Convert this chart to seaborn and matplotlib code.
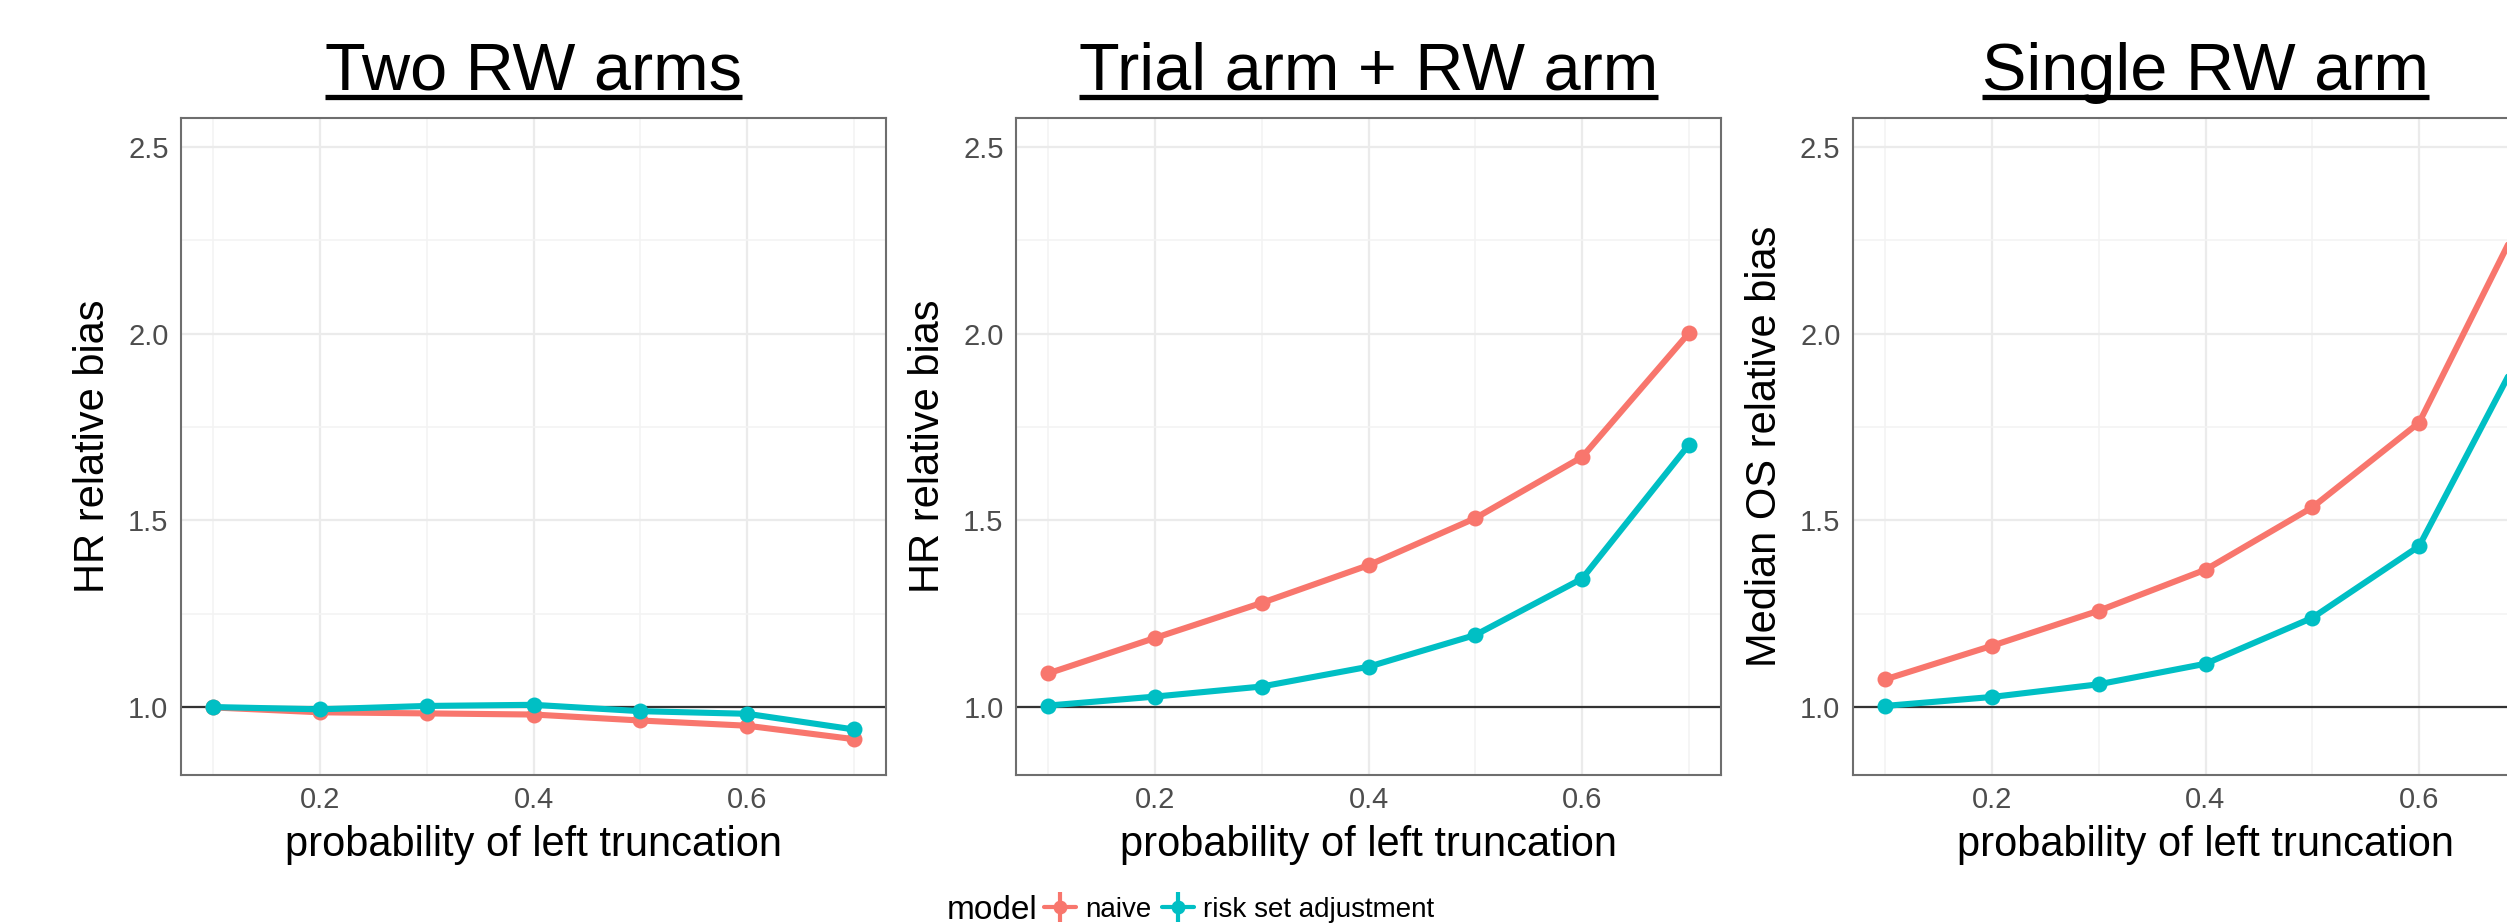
import matplotlib
matplotlib.use("Agg")
import matplotlib.pyplot as plt
from matplotlib.lines import Line2D
from matplotlib.ticker import MultipleLocator
import seaborn as sns
import pandas as pd

# data
trunc_prob = [0.1, 0.2, 0.3, 0.4, 0.5, 0.6, 0.7]

two_rw_naive = [0.999, 0.986, 0.983, 0.980, 0.964, 0.950, 0.914]
two_rw_riskset = [1.000, 0.994, 1.003, 1.006, 0.989, 0.982, 0.940]

trial_rw_naive = [1.090, 1.185, 1.279, 1.380, 1.506, 1.670, 2.002]
trial_rw_riskset = [1.004, 1.028, 1.055, 1.108, 1.193, 1.344, 1.703]

single_rw_naive = [1.074, 1.164, 1.258, 1.368, 1.535, 1.762, 2.335]
single_rw_riskset = [1.003, 1.027, 1.061, 1.116, 1.239, 1.431, 1.977]

panel_titles = ["Two RW arms", "Trial arm + RW arm", "Single RW arm"]
y_labels = ["HR relative bias", "HR relative bias", "Median OS relative bias"]
model_names = ["naive", "risk set adjustment"]
colors = {"naive": "#F8766D", "risk set adjustment": "#00BFC4"}

panels = [
    (two_rw_naive, two_rw_riskset),
    (trial_rw_naive, trial_rw_riskset),
    (single_rw_naive, single_rw_riskset),
]

sns.set_style("white")
plt.rcParams["font.family"] = ["Liberation Sans", "DejaVu Sans"]
plt.rcParams["text.color"] = "black"

W, H = 2507, 924
fig = plt.figure(figsize=(W / 100, H / 100), dpi=100)

ax_left = [181, 1016, 1853]
ax_w, ax_top, ax_bot = 705, 118, 775
ax_h = ax_bot - ax_top

for i, (naive, riskset) in enumerate(panels):
    ax = fig.add_axes([ax_left[i] / W, 1 - ax_bot / H, ax_w / W, ax_h / H])
    df = pd.DataFrame({
        "p": trunc_prob * 2,
        "bias": naive + riskset,
        "model": [model_names[0]] * len(naive) + [model_names[1]] * len(riskset),
    })
    ax.axhline(1.0, color="#333333", lw=1.6, zorder=1.5)
    sns.lineplot(data=df, x="p", y="bias", hue="model", palette=colors,
                 marker="o", markersize=11.5, markeredgewidth=0, linewidth=4.4,
                 errorbar=None, legend=False, ax=ax, zorder=3)
    ax.set_xlim(0.07, 0.73)
    ax.set_ylim(0.818, 2.578)
    ax.xaxis.set_minor_locator(MultipleLocator(0.1))
    ax.yaxis.set_minor_locator(MultipleLocator(0.25))
    ax.set_xticks([0.2, 0.4, 0.6])
    ax.set_xticklabels(["0.2", "0.4", "0.6"])
    ax.set_yticks([1.0, 1.5, 2.0, 2.5])
    ax.set_yticklabels(["1.0", "1.5", "2.0", "2.5"])
    ax.grid(which="major", color="#EBEBEB", lw=1.6)
    ax.grid(which="minor", color="#F3F3F3", lw=1.1)
    ax.set_axisbelow(True)
    ax.tick_params(which="major", length=5, width=1.5, color="#333333",
                   labelsize=21, labelcolor="#4D4D4D")
    ax.tick_params(axis="x", which="major", pad=3)
    ax.tick_params(axis="y", which="major", pad=4)
    ax.tick_params(which="minor", length=0)
    for sp in ax.spines.values():
        sp.set_color("#6E6E6E")
        sp.set_linewidth(1.5)
    ax.set_xlabel("probability of left truncation", fontsize=30, color="black")
    ax.xaxis.set_label_coords(0.5, -81 / ax_h)
    ax.xaxis.label.set_va("baseline")
    ax.set_ylabel(y_labels[i], fontsize=30, color="black")
    ax.yaxis.set_label_coords(-88 / ax_w, 0.5)
    ax.yaxis.label.set_va("center")

# underlined panel titles
titles = []
for i, t in enumerate(panel_titles):
    cx = (ax_left[i] + ax_w / 2) / W
    titles.append(fig.text(cx, 1 - 90 / H, t, fontsize=48, color="black",
                           ha="center", va="baseline"))

# legend below the panels
leg_y = 1 - 910 / H
fig.text(947 / W, 1 - 919 / H, "model", fontsize=24, color="black",
         ha="left", va="baseline")
handles = []
for m in model_names:
    c = colors[m]
    handles.append((
        Line2D([], [], color=c, lw=3, marker="o", markersize=10, markeredgewidth=0),
        Line2D([], [], color=c, lw=0, marker="|", markersize=22, markeredgewidth=3),
    ))
fig.legend(handles, model_names, loc="center left", bbox_to_anchor=(1044 / W, leg_y),
           ncol=2, frameon=False, fontsize=20, handlelength=1.15, handletextpad=0.35,
           columnspacing=0.35, borderpad=0, borderaxespad=0)

fig.canvas.draw()
renderer = fig.canvas.get_renderer()
for t in titles:
    bb = t.get_window_extent(renderer)
    yline = (H - 96.5) / H
    fig.add_artist(Line2D([bb.x0 / W, bb.x1 / W], [yline, yline], color="black",
                          lw=3.8, solid_capstyle="butt", transform=fig.transFigure))

fig.savefig("out.png", dpi=100)
